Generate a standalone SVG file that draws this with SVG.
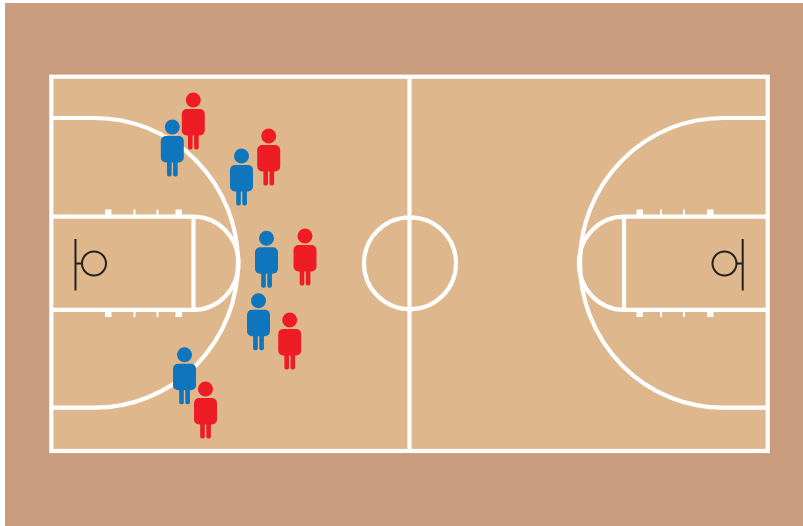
<svg xmlns="http://www.w3.org/2000/svg" width="803" height="526" viewBox="0 0 803 526">
<style>
.l{fill:none;stroke:#fff;stroke-width:4.2}
.h{fill:#fff}
.k{fill:none;stroke:#231f20;stroke-width:2}
.blue{fill:#0f75bc}
.red{fill:#ee1c25}
</style>
<defs>
<g id="p">
<circle cx="0" cy="0" r="7.500"/>
<rect x="-11.500" y="9" width="23" height="26.500" rx="5"/>
<rect x="-5.300" y="33" width="4.600" height="16.500" rx="1.800"/>
<rect x="0.800" y="33" width="4.600" height="16.500" rx="1.800"/>
</g>
</defs>
<rect width="803" height="526" fill="#fff"/>
<rect x="5" y="3" width="798" height="523" fill="#c99c7e"/>
<g id="court">
<rect x="51.300" y="76.700" width="716.400" height="374.300" fill="#deb88c"/>
<path class="l" d="M51.300 118H95A143 144.800 0 0 1 95 407.600H51.300"/>
<path class="l" d="M767.700 118H723A143 144.800 0 0 0 723 407.600H767.700"/>
<path class="l" d="M51.300 216.700H193.500V309.800H51.300M193.500 216.700A45 46.500 0 0 1 193.500 309.800"/>
<path class="l" d="M767.700 216.700H624V309.800H767.700M624 216.700A45 46.500 0 0 0 624 309.800"/>
<path class="l" d="M409.500 76.700V451"/>
<circle class="l" cx="410" cy="263.300" r="46"/>
<rect class="l" x="51.300" y="76.700" width="716.400" height="374.300"/>
<path class="h" d="M105 209.500h6.500v6h-6.500zM133.500 209.500h2v6h-2zM156.500 209.500h2v6h-2zM175.500 209.500h6.500v6h-6.500zM105 311h6.500v6h-6.500zM133.500 311h2v6h-2zM156.500 311h2v6h-2zM175.500 311h6.500v6h-6.500z"/>
<path class="h" d="M636.500 209.500h6.500v6h-6.500zM660 209.500h2v6h-2zM683 209.500h2v6h-2zM707 209.500h6.500v6h-6.500zM636.500 311h6.500v6h-6.500zM660 311h2v6h-2zM683 311h2v6h-2zM707 311h6.500v6h-6.500z"/>
</g>
<g id="hoop-left"><circle class="k" cx="94" cy="263.500" r="12"/><path class="k" d="M75.500 239V290.500M75.500 263.500H82"/></g>
<g id="hoop-right"><circle class="k" cx="724.500" cy="263.500" r="12"/><path class="k" d="M742.700 239V290.500M742.700 263.500H736.500"/></g>
<g id="red-1" class="red"><use href="#p" x="193.300" y="100"/></g>
<g id="red-2" class="red"><use href="#p" x="268.700" y="136"/></g>
<g id="red-3" class="red"><use href="#p" x="305" y="236"/></g>
<g id="red-4" class="red"><use href="#p" x="289.700" y="320"/></g>
<g id="red-5" class="red"><use href="#p" x="205.500" y="389"/></g>
<g id="blue-1" class="blue"><use href="#p" x="172.300" y="127"/></g>
<g id="blue-2" class="blue"><use href="#p" x="241.500" y="156"/></g>
<g id="blue-3" class="blue"><use href="#p" x="266.500" y="238.200"/></g>
<g id="blue-4" class="blue"><use href="#p" x="258.500" y="300.700"/></g>
<g id="blue-5" class="blue"><use href="#p" x="184.500" y="354.700"/></g>
</svg>
